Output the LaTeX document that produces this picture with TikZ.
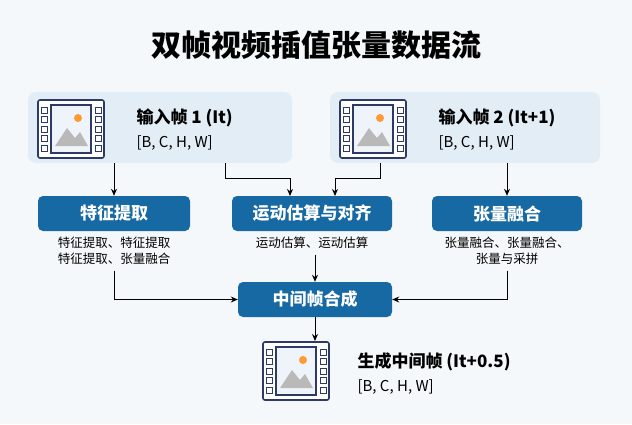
\documentclass[tikz,border=0pt]{standalone}
\usepackage{fontspec}
\setmainfont{Noto Sans CJK SC}
\usetikzlibrary{arrows.meta}
\definecolor{navy}{HTML}{2E3A66}
\definecolor{stepblue}{HTML}{1769A3}
\definecolor{panel}{HTML}{E3EDF5}
\definecolor{bg}{HTML}{F5F8FA}
\tikzset{
  stage/.style={draw=none,fill=stepblue,rounded corners=5pt,text=white,font=\bfseries\fontsize{17}{17}\selectfont,minimum height=35pt},
  note/.style={font=\fontsize{12.5}{16}\selectfont,align=center},
  flow/.style={-{Stealth[length=7pt,width=6pt]},line width=1pt},
  pics/frame/.style={code={
    \draw[navy,line width=1.6pt,fill=white,rounded corners=2pt] (0,0) rectangle (66,58);
    \draw[navy,line width=1.4pt,fill=panel!60] (13,5) rectangle (53,53);
    \foreach \k in {0,...,4}{
      \draw[navy,line width=1pt,fill=white] (3,7+\k*9.5) rectangle (9,13+\k*9.5);
      \draw[navy,line width=1pt,fill=white] (57,7+\k*9.5) rectangle (63,13+\k*9.5);}
    \fill[gray!55] (17,46) -- (29,28) -- (37,38) -- (42,32) -- (50,46) -- cycle;
    \fill[orange!80] (40,18) circle (4);
  }}
}
\begin{document}
\begin{tikzpicture}[x=1pt,y=-1pt]
\fill[bg] (0,0) rectangle (632,424);
\node[font=\bfseries\fontsize{30}{30}\selectfont] (title) at (316,45) {双帧视频插值张量数据流};

% input frames
\node[fill=panel,rounded corners=8pt,minimum width=264pt,minimum height=71pt,inner sep=0pt] (in1) at (160,127.5) {};
\node[fill=panel,rounded corners=8pt,minimum width=270pt,minimum height=71pt,inner sep=0pt] (in2) at (465,127.5) {};
\pic at (38,100) {frame};
\pic at (340,100) {frame};
\node[anchor=west,font=\bfseries\fontsize{17}{17}\selectfont] (in1t) at (133,118) {输入帧 1 (It)};
\node[anchor=west,font=\fontsize{15}{15}\selectfont] (in1s) at (133,143) {[B, C, H, W]};
\node[anchor=west,font=\bfseries\fontsize{17}{17}\selectfont] (in2t) at (435,118) {输入帧 2 (It+1)};
\node[anchor=west,font=\fontsize{15}{15}\selectfont] (in2s) at (435,143) {[B, C, H, W]};

% steps
\node[stage,minimum width=152pt] (feat) at (114,213.5) {特征提取};
\node[stage,minimum width=160pt] (mot) at (312,213.5) {运动估算与对齐};
\node[stage,minimum width=150pt] (fuse) at (507,213.5) {张量融合};
\node[note,anchor=north] (featn) at (114,233) {特征提取、特征提取\\特征提取、张量融合};
\node[note,anchor=north] (motn) at (312,233) {运动估算、运动估算};
\node[note,anchor=north] (fusen) at (507,233) {张量融合、张量融合、\\张量与采拼};
\node[stage,minimum width=154pt] (mid) at (315,299.5) {中间帧合成};

% output
\pic at (263,342) {frame};
\node[anchor=west,font=\bfseries\fontsize{17}{17}\selectfont] (outt) at (354,362) {生成中间帧 (It+0.5)};
\node[anchor=west,font=\fontsize{15}{15}\selectfont] (outs) at (354,387) {[B, C, H, W]};
\coordinate (out) at (296,341);

\draw[flow] (in1.south -| feat) -- (feat);
\draw[flow] (in1.south -| 225,0) |- (290,178) -- (290,196);
\draw[flow] (in2.south -| 380,0) |- (335,178) -- (335,196);
\draw[flow] (in2.south -| fuse) -- (fuse);
\draw[flow] (motn.south -| mid) ++(0,3) -- (mid);
\draw[flow] (featn.south) ++(0,3) |- (mid.west);
\draw[flow] (fusen.south) ++(0,3) |- (mid.east);
\draw[flow] (mid.south) -- (mid.south |- out);
\end{tikzpicture}
\end{document}
